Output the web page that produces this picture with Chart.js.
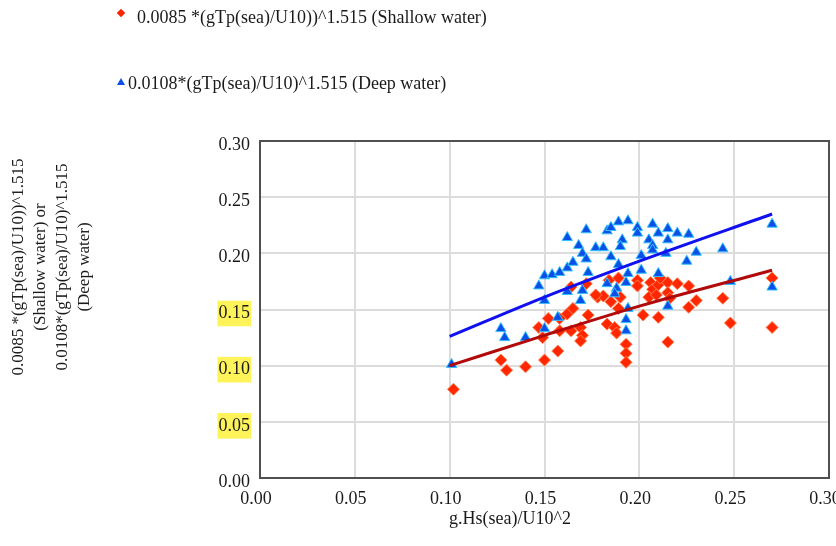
<!DOCTYPE html>
<html>
<head>
<meta charset="utf-8">
<title>Shallow vs deep water</title>
<script src="https://cdn.jsdelivr.net/npm/chart.js@4.4.1/dist/chart.umd.min.js"></script>
<style>
    html, body { margin: 0; padding: 0; background: #fff; }
    #wrap { position: relative; width: 836px; height: 546px; font-family: "Liberation Serif", "Times New Roman", serif; color: #1a1a1a; }
    #chart { position: absolute; left: 0; top: 0; }
    .legend-text { position: absolute; font-size: 18px; line-height: 22px; white-space: nowrap; }
    .diamond { position: absolute; width: 6px; height: 6px; background: #ff2200; transform: rotate(45deg); }
    .triangle { position: absolute; width: 0; height: 0; border-left: 4px solid transparent; border-right: 4px solid transparent; border-bottom: 7px solid #0a4fe6; }
    #ytitle { position: absolute; left: -109px; top: 223px; width: 320px; font-size: 17px; line-height: 22px; text-align: center; transform: rotate(-90deg); }
    #xtitle { position: absolute; left: 410px; top: 508px; width: 200px; font-size: 18px; text-align: center; }
</style>
</head>
<body>
<div id="wrap">
    <canvas id="chart" width="836" height="546"></canvas>
    <div class="diamond" style="left:118px; top:10px;"></div>
    <div class="legend-text" style="left:137px; top:6px;">0.0085 *(gTp(sea)/U10))^1.515 (Shallow water)</div>
    <div class="triangle" style="left:117px; top:78px;"></div>
    <div class="legend-text" style="left:128px; top:72px;">0.0108*(gTp(sea)/U10)^1.515 (Deep water)</div>
    <div id="ytitle">0.0085 *(gTp(sea)/U10))^1.515<br>(Shallow water) or<br>0.0108*(gTp(sea)/U10)^1.515<br>(Deep water)</div>
    <div id="xtitle">g.Hs(sea)/U10^2</div>
</div>
<script>
(function () {
    "use strict";

    // Tick labels
    const xTicks = [0, 0.05, 0.10, 0.15, 0.20, 0.25, 0.30];
    const yTicks = [0, 0.05, 0.10, 0.15, 0.20, 0.25, 0.30];
    const highlightedY = [0.05, 0.10, 0.15];

    // Shallow water points (red diamonds)
    const shallowX = [0.102, 0.127, 0.130, 0.140, 0.150, 0.157, 0.147, 0.149, 0.152, 0.158,
        0.162, 0.165, 0.158, 0.164, 0.169, 0.170, 0.169, 0.173, 0.178, 0.181,
        0.185, 0.189, 0.183, 0.187, 0.188, 0.193, 0.193, 0.193, 0.202, 0.210,
        0.215, 0.172, 0.177, 0.164, 0.184, 0.189, 0.199, 0.199, 0.206, 0.207,
        0.210, 0.211, 0.215, 0.205, 0.209, 0.215, 0.220, 0.226, 0.230, 0.226,
        0.244, 0.270, 0.248, 0.270, 0.190, 0.216];
    const shallowY = [0.079, 0.105, 0.096, 0.099, 0.105, 0.113, 0.134, 0.125, 0.142, 0.142,
        0.146, 0.151, 0.131, 0.131, 0.134, 0.127, 0.122, 0.145, 0.161, 0.162,
        0.157, 0.151, 0.137, 0.134, 0.129, 0.119, 0.111, 0.103, 0.145, 0.143,
        0.121, 0.173, 0.163, 0.170, 0.176, 0.178, 0.176, 0.171, 0.174, 0.168,
        0.172, 0.178, 0.174, 0.161, 0.163, 0.165, 0.173, 0.171, 0.158, 0.152,
        0.160, 0.178, 0.138, 0.134, 0.161, 0.160];

    // Deep water points (blue triangles)
    const deepX = [0.101, 0.127, 0.129, 0.140, 0.150, 0.157, 0.150, 0.147, 0.150, 0.154,
        0.158, 0.162, 0.165, 0.162, 0.168, 0.172, 0.170, 0.172, 0.173, 0.162,
        0.170, 0.169, 0.177, 0.181, 0.183, 0.185, 0.189, 0.194, 0.191, 0.190,
        0.185, 0.189, 0.183, 0.188, 0.193, 0.187, 0.194, 0.193, 0.193, 0.199,
        0.199, 0.207, 0.210, 0.215, 0.205, 0.207, 0.207, 0.214, 0.201, 0.194,
        0.210, 0.201, 0.215, 0.220, 0.226, 0.230, 0.225, 0.244, 0.270, 0.248,
        0.270, 0.215];
    const deepY = [0.101, 0.133, 0.125, 0.125, 0.133, 0.143, 0.158, 0.171, 0.180, 0.181,
        0.183, 0.187, 0.192, 0.214, 0.207, 0.221, 0.200, 0.195, 0.183, 0.166,
        0.167, 0.158, 0.205, 0.205, 0.220, 0.223, 0.228, 0.229, 0.212, 0.206,
        0.197, 0.190, 0.173, 0.169, 0.174, 0.164, 0.151, 0.141, 0.131, 0.223,
        0.218, 0.226, 0.218, 0.222, 0.212, 0.207, 0.203, 0.200, 0.185, 0.182,
        0.182, 0.198, 0.212, 0.218, 0.217, 0.201, 0.193, 0.204, 0.226, 0.175,
        0.170, 0.153];

    // Fitted curves
    const shallowFitX = [0.10, 0.15, 0.20, 0.27];
    const shallowFitY = [0.100, 0.127, 0.153, 0.185];
    const deepFitX = [0.10, 0.15, 0.20, 0.27];
    const deepFitY = [0.126, 0.161, 0.193, 0.235];

    const toPoints = function (xs, ys) {
        return xs.map(function (x, i) {
            return {x: x, y: ys[i]};
        });
    };

    // frame round the plot area
    const framePlugin = {
        id: 'frame',
        beforeDatasetsDraw: function (chart) {
            const a = chart.chartArea;
            const c = chart.ctx;
            c.save();
            c.strokeStyle = '#505050';
            c.lineWidth = 2;
            c.strokeRect(a.left, a.top, a.right - a.left, a.bottom - a.top);
            c.restore();
        }
    };

    const tickFont = {family: '"Liberation Serif", "Times New Roman", serif', size: 18};

    const ctx = document.getElementById('chart').getContext('2d');
    const myChart = new Chart(ctx, {
        type: 'scatter',
        data: {
            datasets: [{
                type: 'line',
                data: toPoints(deepFitX, deepFitY),
                borderColor: '#1010f0',
                borderWidth: 3,
                pointRadius: 0,
                fill: false,
                cubicInterpolationMode: 'monotone'
            }, {
                type: 'line',
                data: toPoints(shallowFitX, shallowFitY),
                borderColor: '#b00a0a',
                borderWidth: 3,
                pointRadius: 0,
                fill: false,
                cubicInterpolationMode: 'monotone'
            }, {
                data: toPoints(deepX, deepY),
                pointStyle: 'triangle',
                pointRadius: 6,
                backgroundColor: '#0a4fe6',
                borderColor: '#35c0ff',
                borderWidth: 1
            }, {
                data: toPoints(shallowX, shallowY),
                pointStyle: 'rectRot',
                pointRadius: 6,
                backgroundColor: '#ff2600',
                borderColor: '#ff8050',
                borderWidth: 1
            }]
        },
        options: {
            responsive: false,
            animation: false,
            layout: {padding: {left: 200, top: 141, right: 7, bottom: 38}},
            plugins: {
                legend: {display: false},
                tooltip: {enabled: false}
            },
            scales: {
                x: {
                    type: 'linear',
                    min: 0,
                    max: 0.3,
                    afterBuildTicks: function (s) {
                        s.ticks = xTicks.map(function (v) { return {value: v}; });
                    },
                    afterFit: function (s) {
                        s.height = 30;
                        s.paddingLeft = 0;
                        s.paddingRight = 0;
                    },
                    grid: {color: '#dcdcdc', lineWidth: 2, drawTicks: false},
                    border: {display: false},
                    ticks: {
                        padding: 10,
                        labelOffset: -4,
                        color: '#1a1a1a',
                        font: tickFont,
                        maxRotation: 0,
                        autoSkip: false,
                        callback: function (v) { return Number(v).toFixed(2); }
                    }
                },
                y: {
                    type: 'linear',
                    min: 0,
                    max: 0.3,
                    afterBuildTicks: function (s) {
                        s.ticks = yTicks.map(function (v) { return {value: v}; });
                    },
                    afterFit: function (s) {
                        s.width = 60;
                        s.paddingTop = 0;
                        s.paddingBottom = 0;
                    },
                    grid: {color: '#dcdcdc', lineWidth: 2, drawTicks: false},
                    border: {display: false},
                    ticks: {
                        padding: 10,
                        labelOffset: 4,
                        color: '#1a1a1a',
                        font: tickFont,
                        autoSkip: false,
                        showLabelBackdrop: true,
                        backdropPadding: {top: 2, bottom: 2, left: 1, right: 1},
                        backdropColor: function (c) {
                            const v = c.tick ? Math.round(c.tick.value * 100) / 100 : null;
                            return highlightedY.indexOf(v) >= 0 ? '#fff35a' : 'rgba(0,0,0,0)';
                        },
                        callback: function (v) { return Number(v).toFixed(2); }
                    }
                }
            }
        },
        plugins: [framePlugin]
    });
    useConst(myChart);

    function useConst(constElement) {
    }
})();
</script>
</body>
</html>
